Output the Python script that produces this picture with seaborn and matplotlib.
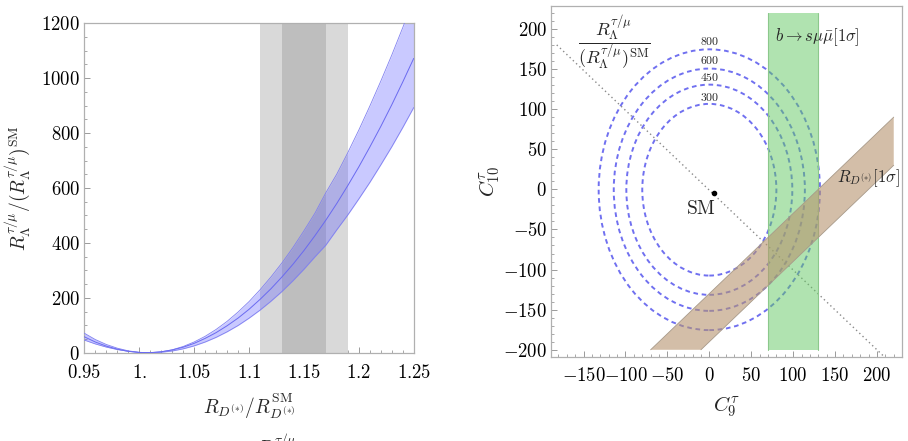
import numpy as np
import pandas as pd
import matplotlib
matplotlib.use("Agg")
import matplotlib.pyplot as plt
from matplotlib.patches import Ellipse
from matplotlib.ticker import MultipleLocator
import seaborn as sns

# ---------------- Left panel data ----------------
ratio_x = [0.95, 0.96, 0.97, 0.98, 0.99, 1.00, 1.01, 1.02, 1.03, 1.04,
           1.05, 1.06, 1.07, 1.08, 1.09, 1.10, 1.11, 1.12, 1.13, 1.14,
           1.15, 1.16, 1.17, 1.18, 1.19, 1.20, 1.21, 1.22, 1.23, 1.24, 1.25]
ratio_central = [58, 39, 24, 13, 5, 0.8, 0.2, 3.3, 9.9, 20,
                 34, 52, 73, 98, 126, 158, 194, 233, 276, 322,
                 372, 426, 483, 544, 609, 677, 749, 824, 903, 986, 1072]
ratio_upper = [71, 48, 30, 16.5, 6.8, 1.3, 0.1, 3.2, 10.6, 22.5,
               39, 59.5, 84.6, 114, 148, 186, 229, 276, 327, 383,
               444, 508, 583, 651, 729, 811, 898, 989, 1084, 1184, 1288]
ratio_lower = [46, 32, 20.5, 11.5, 5.1, 1.3, 0, 1.6, 6.2, 14,
               24.8, 38.8, 55.8, 76, 99, 125.6, 155, 187.6, 223, 262,
               304, 349, 392, 448, 502, 560, 620, 684, 750, 820, 893]
rd_outer_band = [1.11, 1.19]
rd_inner_band = [1.13, 1.17]
left_xticks = [0.95, 1.0, 1.05, 1.1, 1.15, 1.2, 1.25]
left_xticklabels = ["0.95", "1.", "1.05", "1.1", "1.15", "1.2", "1.25"]
left_yticks = [0, 200, 400, 600, 800, 1000, 1200]

# ---------------- Right panel data ----------------
contour_levels = [300, 450, 600, 800]
contour_semi_c9 = [80, 99, 114, 132]
contour_semi_c10 = [107, 131, 151, 175]
contour_center = [0, -0.5]
contour_label_c10 = [115, 139, 161, 184]
bsmumu_c9 = [70, 130]
bsmumu_c10 = [-200, 220]
rd_upper_c9 = [-70, 220]
rd_upper_c10 = [-200, 90]
rd_lower_c9 = [-10, 220]
rd_lower_c10 = [-200, 30]
diag_c9 = [-182, 208]
diag_c10 = [180, -208]
sm_point = [5, -4]
right_xticks = [-150, -100, -50, 0, 50, 100, 150, 200]
right_yticks = [-200, -150, -100, -50, 0, 50, 100, 150, 200]

# ---------------- Style ----------------
sns.set_style("white")
plt.rcParams["mathtext.fontset"] = "cm"
plt.rcParams["font.family"] = ["DejaVu Serif"]

fig = plt.figure(figsize=(9.08, 4.41), dpi=100)
W, H = 908, 441
axL = fig.add_axes([84.3 / W, 1 - 352.7 / H, 329.4 / W, 329.4 / H])
axR = fig.add_axes([551.3 / W, 1 - 357 / H, 350.4 / W, 351 / H])

frame_col = "#b0b0b0"
for ax in (axL, axR):
    for s in ax.spines.values():
        s.set_color(frame_col)
        s.set_linewidth(0.9)
    ax.tick_params(which="both", direction="in", color="#9a9a9a",
                   bottom=True, left=True, top=False, right=False,
                   labelcolor="black")
    ax.tick_params(which="major", length=4.5, width=0.7)
    ax.tick_params(which="minor", length=2.5, width=0.6)

# ---- Left panel ----
axL.axvspan(*rd_outer_band, color="#d9d9d9", lw=0, zorder=1)
axL.axvspan(*rd_inner_band, color="#bebebe", lw=0, zorder=1.1)
axL.fill_between(ratio_x, ratio_lower, ratio_upper, color="#5c5cff",
                 alpha=0.33, lw=0, zorder=2)
df_left = pd.DataFrame({"x": ratio_x, "c": ratio_central,
                        "u": ratio_upper, "l": ratio_lower})
sns.lineplot(data=df_left, x="x", y="u", ax=axL, color="#8080f0", lw=0.6, zorder=3)
sns.lineplot(data=df_left, x="x", y="l", ax=axL, color="#8080f0", lw=0.6, zorder=3)
sns.lineplot(data=df_left, x="x", y="c", ax=axL, color="#6a6af0", lw=0.7, zorder=3)
axL.set_xlim(0.95, 1.25)
axL.set_ylim(0, 1200)
axL.set_xticks(left_xticks)
axL.set_xticklabels(["$" + t + "$" for t in left_xticklabels], fontsize=13.5)
axL.set_yticks(left_yticks)
axL.set_yticklabels(["$%d$" % v for v in left_yticks], fontsize=13.5)
axL.xaxis.set_minor_locator(MultipleLocator(0.01))
axL.yaxis.set_minor_locator(MultipleLocator(50))
axL.tick_params(axis="x", pad=8)
axL.tick_params(axis="y", pad=3)
axL.set_xlabel(r"$R_{D^{(*)}}/R_{D^{(*)}}^{\rm SM}$", fontsize=14, labelpad=7)
axL.set_ylabel(r"$R_\Lambda^{\tau/\mu}/(R_\Lambda^{\tau/\mu})^{\rm SM}$", fontsize=14, labelpad=6)

# ---- Right panel ----
for lev, a, b in zip(contour_levels, contour_semi_c9, contour_semi_c10):
    e = Ellipse((contour_center[0], contour_center[1]), 2 * a, 2 * b,
                fill=False, ec="#7070f0", lw=1.4, ls=(0, (2.4, 1.9)), zorder=2)
    axR.add_patch(e)
for lev, yl in zip(contour_levels, contour_label_c10):
    axR.text(contour_center[0], yl, "$%d$" % lev, fontsize=8.5,
             ha="center", va="center", zorder=5)

axR.fill_betweenx(bsmumu_c10, bsmumu_c9[0], bsmumu_c9[1], color="#62c862",
                  alpha=0.5, lw=0, zorder=3)
for xv in bsmumu_c9:
    axR.plot([xv, xv], bsmumu_c10, color="#8cc88c", lw=0.8, zorder=3.1)

rd_poly_x = rd_upper_c9 + rd_lower_c9[::-1]
rd_poly_y = rd_upper_c10 + rd_lower_c10[::-1]
axR.fill(rd_poly_x, rd_poly_y, color="#b7946e", alpha=0.6, lw=0, zorder=4)
axR.plot(rd_upper_c9, rd_upper_c10, color="#a89a8a", lw=0.6, zorder=4.1)
axR.plot(rd_lower_c9, rd_lower_c10, color="#a89a8a", lw=0.6, zorder=4.1)

df_diag = pd.DataFrame({"c9": diag_c9, "c10": diag_c10})
sns.lineplot(data=df_diag, x="c9", y="c10", ax=axR, color="#8a8a8a",
             lw=1.0, ls=(0, (1, 2.2)), zorder=2.5)
axR.plot([sm_point[0]], [sm_point[1]], "o", color="black", ms=3, zorder=6)
axR.text(-10, -25, r"$\mathrm{SM}$", fontsize=14, ha="center", va="center", zorder=6)
axR.text(-113, 182, r"$\dfrac{R_\Lambda^{\tau/\mu}}{(R_\Lambda^{\tau/\mu})^{\rm SM}}$",
         fontsize=13, ha="center", va="center", zorder=6)
axR.text(78, 190, r"$b\rightarrow s\mu\bar{\mu}[1\sigma]$", fontsize=12,
         ha="left", va="center", zorder=6)
axR.text(152, 14, r"$R_{D^{(*)}}[1\sigma]$", fontsize=12,
         ha="left", va="center", zorder=6)

axR.set_xlim(-188.5, 229.5)
axR.set_ylim(-209, 228.5)
axR.set_xticks(right_xticks)
axR.set_xticklabels(["$%d$" % v for v in right_xticks], fontsize=13.5)
axR.set_yticks(right_yticks)
axR.set_yticklabels(["$%d$" % v for v in right_yticks], fontsize=13.5)
axR.xaxis.set_minor_locator(MultipleLocator(10))
axR.yaxis.set_minor_locator(MultipleLocator(10))
axR.tick_params(axis="x", pad=7)
axR.tick_params(axis="y", pad=3)
axR.set_xlabel(r"$C_9^\tau$", fontsize=15, labelpad=7)
axR.set_ylabel(r"$C_{10}^\tau$", fontsize=15, labelpad=1)

# cut-off caption at the bottom edge
fig.text(257 / W, 1 - 431 / H, r"$R_\Lambda^{\tau/\mu}$", fontsize=14,
         ha="left", va="top")

fig.savefig("out.png", dpi=100)
